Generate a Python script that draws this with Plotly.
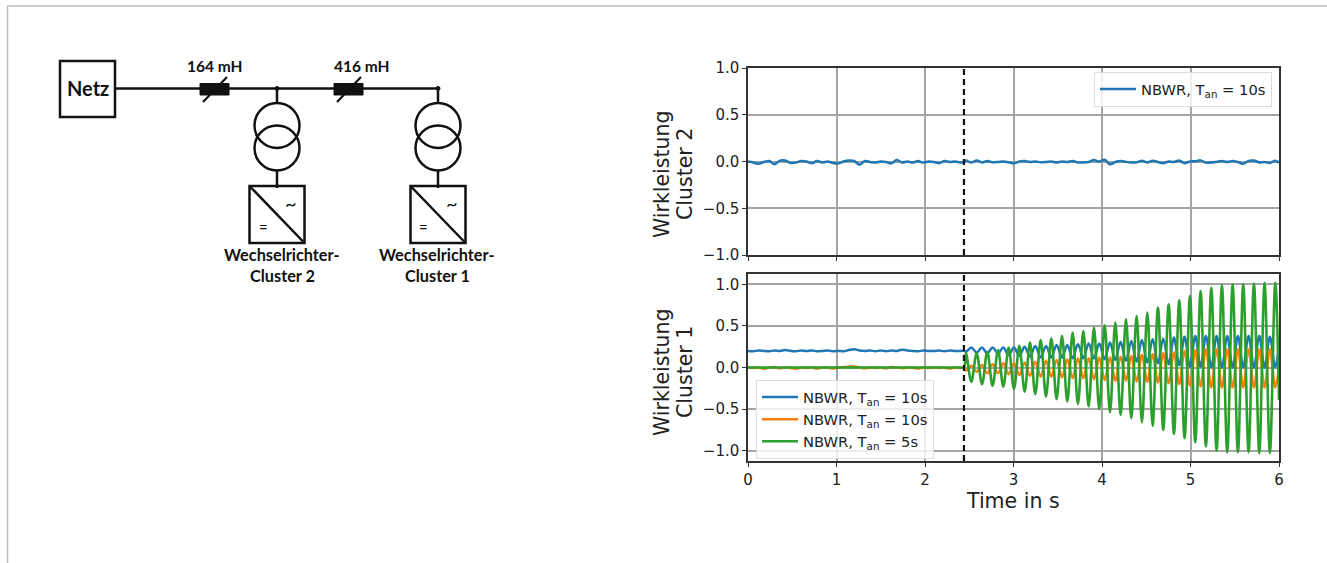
import plotly.graph_objects as go

W, H = 1327, 563

t_pre = [0.00,0.06,0.12,0.18,0.24,0.30,0.36,0.42,0.48,0.54,0.60,0.66,0.72,0.78,0.84,0.90,0.96,1.02,1.08,1.14,
         1.20,1.26,1.32,1.38,1.44,1.50,1.56,1.62,1.68,1.74,1.80,1.86,1.92,1.98,2.04,2.10,2.16,2.22,2.28,2.34,2.40,2.44]
t_post = [2.463,2.523,2.584,2.644,2.704,2.764,2.825,2.885,2.945,3.005,3.066,3.126,3.186,3.246,3.307,3.367,3.427,3.487,3.548,3.608,
          3.668,3.728,3.789,3.849,3.909,3.969,4.030,4.090,4.150,4.210,4.271,4.331,4.391,4.451,4.512,4.572,4.632,4.692,4.753,4.813,
          4.873,4.933,4.994,5.054,5.114,5.174,5.235,5.295,5.355,5.415,5.476,5.536,5.596,5.656,5.717,5.777,5.837,5.897,5.958,6.000]
time_all = t_pre + t_post

cluster2_pre = [0.00,-0.01,-0.025,-0.005,0.005,-0.03,0.01,0.01,-0.015,-0.012,0.005,0.00,-0.02,0.005,-0.01,0.00,-0.015,-0.02,0.00,0.01,
                0.005,-0.035,0.005,-0.005,-0.012,0.00,-0.005,-0.02,0.015,-0.01,0.00,-0.012,0.005,-0.012,0.00,-0.005,-0.018,0.005,-0.005,0.00,-0.01,-0.005]
cluster2_post = [0.01,-0.012,0.012,-0.01,0.005,-0.008,-0.005,0.00,-0.008,-0.02,0.00,0.005,-0.005,0.00,-0.008,-0.005,0.00,-0.01,0.00,-0.006,
                 0.005,-0.01,-0.01,-0.005,0.015,0.00,0.018,-0.03,-0.006,0.005,-0.004,-0.01,-0.008,0.008,-0.012,0.008,-0.006,-0.018,0.00,-0.005,
                 0.01,-0.018,0.00,0.003,0.012,-0.012,-0.012,-0.004,0.005,-0.005,0.006,-0.005,-0.025,0.006,0.01,-0.01,-0.006,-0.015,0.008,-0.012]
cluster2 = cluster2_pre + cluster2_post

blue_pre = [0.20,0.195,0.205,0.20,0.195,0.205,0.20,0.21,0.20,0.195,0.205,0.20,0.205,0.195,0.20,0.205,0.195,0.20,0.195,0.21,
            0.22,0.205,0.20,0.205,0.195,0.205,0.195,0.205,0.20,0.215,0.205,0.20,0.195,0.205,0.20,0.20,0.205,0.195,0.205,0.20,0.20,0.20]
blue_post = [0.19,0.24,0.18,0.24,0.17,0.24,0.17,0.24,0.15,0.24,0.14,0.25,0.13,0.26,0.12,0.26,0.12,0.27,0.12,0.27,
             0.11,0.28,0.11,0.29,0.11,0.29,0.10,0.30,0.09,0.31,0.08,0.32,0.07,0.33,0.06,0.34,0.05,0.35,0.04,0.36,
             0.03,0.37,0.01,0.38,0.01,0.38,0.00,0.38,0.00,0.38,0.00,0.38,0.00,0.38,0.00,0.38,0.00,0.37,0.00,0.27]
orange_pre = [0.00,-0.005,0.00,-0.015,0.00,0.005,-0.01,0.00,-0.005,-0.015,0.00,-0.005,0.00,-0.012,0.00,0.00,-0.012,0.00,0.005,0.01,
              0.012,0.00,-0.01,0.00,-0.005,0.00,-0.01,0.005,0.00,-0.01,0.00,0.00,-0.012,0.00,-0.005,0.00,-0.005,0.00,-0.012,0.00,-0.005,0.00]
orange_post = [-0.04,0.02,-0.05,0.03,-0.07,0.04,-0.07,0.05,-0.08,0.05,-0.09,0.06,-0.10,0.07,-0.11,0.08,-0.11,0.09,-0.12,0.10,
               -0.13,0.11,-0.13,0.11,-0.14,0.12,-0.15,0.12,-0.16,0.13,-0.16,0.14,-0.17,0.15,-0.17,0.16,-0.18,0.17,-0.19,0.18,
               -0.20,0.20,-0.22,0.21,-0.23,0.22,-0.24,0.22,-0.24,0.22,-0.24,0.22,-0.24,0.22,-0.24,0.22,-0.24,0.22,-0.24,0.00]
green_pre = [0.00]*42
green_post = [0.17,-0.17,0.17,-0.20,0.19,-0.22,0.21,-0.23,0.24,-0.26,0.26,-0.29,0.30,-0.32,0.33,-0.35,0.35,-0.38,0.38,-0.41,
              0.42,-0.44,0.44,-0.47,0.48,-0.50,0.51,-0.54,0.54,-0.57,0.58,-0.61,0.62,-0.66,0.66,-0.70,0.72,-0.75,0.76,-0.80,
              0.81,-0.85,0.86,-0.90,0.92,-0.95,0.96,-1.00,0.99,-1.02,1.00,-1.02,1.00,-1.02,1.01,-1.03,1.02,-1.03,1.02,-0.39]

legend_top = ["NBWR, T<sub>an</sub> = 10s"]
legend_bottom = ["NBWR, T<sub>an</sub> = 10s", "NBWR, T<sub>an</sub> = 10s", "NBWR, T<sub>an</sub> = 5s"]
event_time = 2.44
x_ticks = [0, 1, 2, 3, 4, 5, 6]
y_ticks = [-1.0, -0.5, 0.0, 0.5, 1.0]
BLUE, ORANGE, GREEN = "#1f77b4", "#ff7f0e", "#2ca02c"
CH = "DejaVu Sans"
SK = "Lato"


def X(p):
    return p / W


def Y(p):
    return 1 - p / H


fig = go.Figure()
fig.add_trace(go.Scatter(x=time_all, y=cluster2, mode="lines", name=legend_top[0], legend="legend",
                         line=dict(color=BLUE, width=2.5, shape="spline", smoothing=0.8), xaxis="x", yaxis="y"))
for vals, col, nm, w in [(blue_pre + blue_post, BLUE, legend_bottom[0], 2.5),
                         (orange_pre + orange_post, ORANGE, legend_bottom[1], 2.5),
                         (green_pre + green_post, GREEN, legend_bottom[2], 2.6)]:
    fig.add_trace(go.Scatter(x=time_all, y=vals, mode="lines", name=nm, legend="legend2",
                             line=dict(color=col, width=w, shape="spline", smoothing=1.0), xaxis="x2", yaxis="y2"))

axis_common = dict(showgrid=True, gridcolor="#a4a4a4", gridwidth=1.6, zeroline=False, showline=True, automargin=False,
                   linecolor="#333333", linewidth=1.5, mirror=True, ticks="outside", ticklen=4,
                   tickcolor="#333333", tickfont=dict(family=CH, size=15, color="#222222"))

shapes = []


def line(x0, y0, x1, y1, w=2.5, col="#111111"):
    shapes.append(dict(type="line", xref="paper", yref="paper", x0=X(x0), y0=Y(y0), x1=X(x1), y1=Y(y1),
                       line=dict(color=col, width=w)))


def rect(x0, y0, x1, y1, fill="rgba(0,0,0,0)", w=2.5):
    shapes.append(dict(type="rect", xref="paper", yref="paper", x0=X(x0), y0=Y(y0), x1=X(x1), y1=Y(y1),
                       fillcolor=fill, line=dict(color="#111111", width=w)))


def circle(cx, cy, r, fill="rgba(0,0,0,0)", w=2.5):
    shapes.append(dict(type="circle", xref="paper", yref="paper", x0=X(cx - r), y0=Y(cy - r), x1=X(cx + r), y1=Y(cy + r),
                       fillcolor=fill, line=dict(color="#111111", width=w)))


# page frame
line(7.5, 6, W, 6, 1.5, "#bcbcbc")
line(7.5, 6, 7.5, H, 1.5, "#bcbcbc")

# one-line diagram
rect(60, 61, 115, 117)
line(115, 88.5, 438, 88.5)
for x0 in (200, 334):
    rect(x0, 83.5, x0 + 29, 95, fill="#111111", w=1)
    line(x0 + 3, 102, x0 + 27, 77, 2.2)
annotations = []


def text(x, y, s, size=15.5, fam=SK, bold=True, angle=0, color="#111111"):
    annotations.append(dict(xref="paper", yref="paper", x=X(x), y=Y(y), text=f"<b>{s}</b>" if bold else s,
                            showarrow=False, xanchor="center", yanchor="middle", textangle=angle,
                            font=dict(family=fam, size=size, color=color)))


for cx, lab, tx in ((277, "Cluster 2", 282), (438, "Cluster 1", 437)):
    circle(cx, 88.5, 2, fill="#111111", w=1)
    line(cx, 88.5, cx, 103)
    circle(cx, 125.5, 22.5)
    circle(cx, 148, 22.5)
    line(cx, 170.5, cx, 188)
    rect(cx - 27.5, 186, cx + 27.5, 243)
    line(cx - 27.5, 186, cx + 27.5, 243)
    text(cx + 14, 203, "~", size=20, bold=False)
    text(cx - 14, 227, "=", size=15, bold=False)
    text(tx, 254, "Wechselrichter-", size=16.3)
    text(tx, 275, lab, size=16.3)

text(87.5, 88, "Netz", size=20)
text(214.5, 66, "164 mH")
text(362, 66, "416 mH")

# axis titles
text(662, 174, "Wirkleistung", size=20.5, fam=CH, bold=False, angle=-90, color="#222222")
text(685, 174, "Cluster 2", size=20.5, fam=CH, bold=False, angle=-90, color="#222222")
text(662, 372, "Wirkleistung", size=20.5, fam=CH, bold=False, angle=-90, color="#222222")
text(685, 372, "Cluster 1", size=20.5, fam=CH, bold=False, angle=-90, color="#222222")
text(1013, 501, "Time in s", size=20.5, fam=CH, bold=False, color="#222222")

# event markers
for yr in ("y domain", "y2 domain"):
    shapes.append(dict(type="line", xref="x" if yr == "y domain" else "x2", yref=yr, x0=event_time, x1=event_time, y0=0, y1=1,
                       line=dict(color="#111111", width=2.2, dash="6px,4px")))

fig.update_layout(
    width=W, height=H, autosize=False, margin=dict(l=0, r=0, t=0, b=0),
    paper_bgcolor="white", plot_bgcolor="white", shapes=shapes, annotations=annotations,
    xaxis=dict(axis_common, domain=[X(748), X(1279)], range=[0, 6], tickvals=x_ticks, showticklabels=False, anchor="y"),
    yaxis=dict(axis_common, domain=[Y(255), Y(68)], range=[-1, 1], tickvals=y_ticks, tickformat=".1f", anchor="x"),
    xaxis2=dict(axis_common, domain=[X(748), X(1279)], range=[0, 6], tickvals=x_ticks, anchor="y2"),
    yaxis2=dict(axis_common, domain=[Y(461), Y(274)], range=[-1.125, 1.125], tickvals=y_ticks, tickformat=".1f", anchor="x2"),
    legend=dict(x=X(1272), y=Y(72), xanchor="right", yanchor="top", bgcolor="rgba(255,255,255,0.8)",
                bordercolor="#dddddd", borderwidth=1, font=dict(family=CH, size=14.7, color="#222222"),
                tracegroupgap=0, itemwidth=36),
    legend2=dict(x=X(756), y=Y(380), xanchor="left", yanchor="top", bgcolor="rgba(255,255,255,0.8)",
                 bordercolor="#dddddd", borderwidth=1, font=dict(family=CH, size=14.7, color="#222222"),
                 tracegroupgap=0, itemwidth=36),
    showlegend=True,
)

fig.write_html("out.html", config=dict(displayModeBar=False),
               post_script="document.body.style.margin='0';document.documentElement.style.overflow='hidden';")
